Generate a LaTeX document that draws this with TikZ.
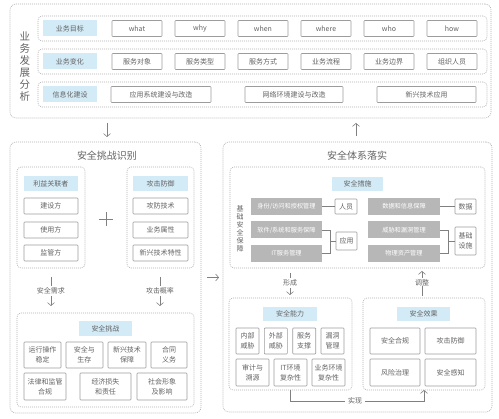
\documentclass[tikz,border=0pt]{standalone}
\usepackage{fontspec}
\setmainfont{Noto Sans CJK SC}
\usetikzlibrary{arrows.meta,calc}
\definecolor{txt}{HTML}{636363}
\definecolor{hdrc}{HTML}{D3EBF7}
\definecolor{bord}{HTML}{9C9C9C}
\definecolor{dotc}{HTML}{B0B0B0}
\definecolor{gfill}{HTML}{B7B7B7}
\definecolor{linec}{HTML}{808080}
\tikzset{
  every node/.style={inner sep=0pt, outer sep=0pt, text=txt, font=\fontsize{7}{8.5}\selectfont, align=center},
  wh/.style 2 args={minimum width=#1pt, minimum height=#2pt},
  dbox/.style={draw=dotc, line width=0.6pt, dash pattern=on 1pt off 1pt, rounded corners=4pt},
  hdr/.style={fill=hdrc, font=\fontsize{7}{8.5}\selectfont},
  wbox/.style={draw=bord, line width=0.6pt, fill=white, rounded corners=0.8pt},
  gbox/.style={fill=gfill, text=white, font=\fontsize{6.2}{7}\selectfont},
  two/.style={font=\fontsize{7}{10}\selectfont},
  ttl/.style={font=\fontsize{10}{12}\selectfont},
  lbl/.style={font=\fontsize{7}{8}\selectfont},
  conn/.style={draw=linec, line width=0.6pt},
  arr/.style={conn, -{Straight Barb[length=3pt,width=7pt]}},
}
\begin{document}
\begin{tikzpicture}[x=1pt,y=-1pt]
\useasboundingbox (0,0) rectangle (499,419);

% ---------- top section ----------
\node[dbox, rounded corners=6pt, wh={481}{114}] (top) at (250.5,61) {};
\node[font=\fontsize{10.5}{12}\selectfont] (topv) at (25,67) {业\\务\\发\\展\\分\\析};
\node[dbox, wh={449}{25}] (row1) at (262.5,28.5) {};
\node[dbox, wh={449}{25}] (row2) at (262.5,61.5) {};
\node[dbox, wh={449}{25}] (row3) at (262.5,94.5) {};

\node[hdr, wh={54}{16}] (h1) at (70,28.5) {业务目标};
\node[hdr, wh={54}{16}] (h2) at (70,61.5) {业务变化};
\node[hdr, wh={54}{16}] (h3) at (70,94.5) {信息化建设};

\node[wbox, wh={50}{16}] (r1a) at (137,28.5) {what};
\node[wbox, wh={50}{16}] (r1b) at (200,28.5) {why};
\node[wbox, wh={50}{16}] (r1c) at (263,28.5) {when};
\node[wbox, wh={50}{16}] (r1d) at (326,28.5) {where};
\node[wbox, wh={50}{16}] (r1e) at (389,28.5) {who};
\node[wbox, wh={50}{16}] (r1f) at (452,28.5) {how};

\node[wbox, wh={50}{16}] (r2a) at (137,61.5) {服务对象};
\node[wbox, wh={50}{16}] (r2b) at (200,61.5) {服务类型};
\node[wbox, wh={50}{16}] (r2c) at (263,61.5) {服务方式};
\node[wbox, wh={50}{16}] (r2d) at (326,61.5) {业务流程};
\node[wbox, wh={50}{16}] (r2e) at (389,61.5) {业务边界};
\node[wbox, wh={50}{16}] (r2f) at (452,61.5) {组织人员};

\node[wbox, wh={100}{16}] (r3a) at (161,94.5) {应用系统建设与改造};
\node[wbox, wh={98}{16}] (r3b) at (294,94.5) {网络环境建设与改造};
\node[wbox, wh={99}{16}] (r3c) at (426.5,94.5) {新兴技术应用};

% ---------- left big ----------
\node[dbox, rounded corners=6pt, wh={191}{271}] (left) at (105.5,277.5) {};
\node[ttl] (ltitle) at (107,156) {安全挑战识别};

\node[dbox, wh={68}{101}] (li1) at (51,217.5) {};
\node[hdr, wh={54}{15}] (lh1) at (51,183.5) {利益关联者};
\node[wbox, wh={54}{16}] (l1a) at (51,206) {建设方};
\node[wbox, wh={54}{16}] (l1b) at (51,230) {使用方};
\node[wbox, wh={54}{16}] (l1c) at (51,253) {监管方};

\node[dbox, wh={67}{101}] (li2) at (160.5,217.5) {};
\node[hdr, wh={55}{15}] (lh2) at (160.5,183.5) {攻击防御};
\node[wbox, wh={55}{16}] (l2a) at (160.5,206) {攻防技术};
\node[wbox, wh={55}{16}] (l2b) at (160.5,230) {业务属性};
\node[wbox, wh={55}{16}] (l2c) at (160.5,253) {新兴技术特性};

\coordinate (plus) at (106,219);
\draw[conn] ($(plus)+(-7,0)$) -- ($(plus)+(7,0)$);
\draw[conn] ($(plus)+(0,-7)$) -- ($(plus)+(0,7)$);

\node[lbl] (need) at (51,291) {安全需求};
\node[lbl] (prob) at (160,291) {攻击概率};

\node[dbox, wh={177}{94}] (li3) at (105.5,360) {};
\node[hdr, wh={53}{15}] (lh3) at (105.5,328.5) {安全挑战};
\node[wbox, two, wh={37}{26}] (c1) at (42.5,355) {运行操作\\稳定};
\node[wbox, two, wh={37}{26}] (c2) at (84.5,355) {安全与\\生存};
\node[wbox, two, wh={38}{26}] (c3) at (127,355) {新兴技术\\保障};
\node[wbox, two, wh={36}{26}] (c4) at (169,355) {合同\\义务};
\node[wbox, two, wh={42}{27}] (c5) at (45,386.5) {法律和监管\\合规};
\node[wbox, two, wh={51}{27}] (c6) at (105.5,386.5) {经济损失\\和责任};
\node[wbox, two, wh={50}{27}] (c7) at (162,386.5) {社会形象\\及影响};

\draw[conn, shorten <=9pt, shorten >=2pt] (li1.south) -- (need.north);
\draw[arr, shorten <=2pt, shorten >=7pt] (need.south) -- (need.south |- li3.north);
\draw[conn, shorten <=9pt, shorten >=2pt] (li2.south -| prob.north) -- (prob.north);
\draw[arr, shorten <=2pt, shorten >=7pt] (prob.south) -- (prob.south |- li3.north);

% ---------- right big ----------
\node[dbox, rounded corners=6pt, wh={269}{270}] (right) at (357.5,277) {};
\node[ttl] (rtitle) at (357,156) {安全体系落实};

\node[dbox, wh={255}{101}] (meas) at (357.5,217.5) {};
\node[hdr, wh={51}{14}] (mh) at (357.5,184) {安全措施};
\node[font=\fontsize{7}{8}\selectfont] (basev) at (240,229) {基\\础\\安\\全\\保\\障};

\node[gbox, wh={71}{17}] (g1) at (286.5,206.5) {身份/访问和授权管理};
\node[gbox, wh={71}{17}] (g2) at (286.5,230) {软件/系统和服务保障};
\node[gbox, wh={71}{17}] (g3) at (286.5,253.5) {IT服务管理};
\node[wbox, wh={22}{15}] (ry) at (346,206.5) {人员};
\node[wbox, wh={21}{18}] (yy) at (346.5,241) {应用};

\node[gbox, wh={72}{17}] (g4) at (404,206.5) {数据和信息保障};
\node[gbox, wh={72}{17}] (g5) at (404,230) {威胁和漏洞管理};
\node[gbox, wh={72}{17}] (g6) at (404,253.5) {物理资产管理};
\node[wbox, wh={21}{15}] (sj) at (465.5,206.5) {数据};
\node[wbox, two, wh={21}{28}] (jc) at (465.5,241) {基础\\设施};

\draw[conn] (g1.east) -- (ry.west);
\draw[conn] (g2.east) -- ++(8,0) coordinate (b1) |- (g3.east);
\draw[conn] (yy.west) -- (yy.west -| b1);
\draw[conn] (g4.east) -- (sj.west);
\draw[conn] (g5.east) -- ++(8,0) coordinate (b2) |- (g6.east);
\draw[conn] (jc.west) -- (jc.west -| b2);

\node[lbl] (form) at (290,283) {形成};
\node[lbl] (adj) at (422,283) {调整};

\node[dbox, wh={123}{92}] (cap) at (290.5,344) {};
\node[hdr, wh={54}{14}] (caph) at (290,314) {安全能力};
\node[wbox, two, wh={23}{26}] (k1) at (247.5,341) {内部\\威胁};
\node[wbox, two, wh={23}{26}] (k2) at (275.8,341) {外部\\威胁};
\node[wbox, two, wh={23}{26}] (k3) at (304.2,341) {服务\\支撑};
\node[wbox, two, wh={23}{26}] (k4) at (332.5,341) {漏洞\\管理};
\node[wbox, two, wh={33}{27}] (k5) at (252.5,372.5) {审计与\\溯源};
\node[wbox, two, wh={33}{27}] (k6) at (290.5,372.5) {IT环境\\复杂性};
\node[wbox, two, wh={33}{27}] (k7) at (328.5,372.5) {业务环境\\复杂性};

\node[dbox, wh={122}{92}] (eff) at (424,344) {};
\node[hdr, wh={53}{14}] (effh) at (423.5,314) {安全效果};
\node[wbox, wh={50}{26}] (e1) at (395,341) {安全合规};
\node[wbox, wh={51}{26}] (e2) at (450.5,341) {攻击防御};
\node[wbox, wh={50}{27}] (e3) at (395,372.5) {风险治理};
\node[wbox, wh={51}{27}] (e4) at (450.5,372.5) {安全感知};

\draw[conn, shorten <=5pt, shorten >=2pt] (meas.south -| form.north) -- (form.north);
\draw[arr, shorten <=2pt, shorten >=3pt] (form.south) -- (form.south |- cap.north);
\draw[arr, shorten <=2pt, shorten >=3pt] (adj.north) -- (adj.north |- meas.south);
\draw[conn, shorten <=2pt] (eff.north -| adj.south) -- (adj.south);

\draw[arr] (cap.south) -- ++(0,11) -| (eff.south);
\node[lbl, fill=white, inner xsep=3pt, inner ysep=1pt] (impl) at (355,401) {实现};

% ---------- inter-section arrows ----------
\draw[arr, shorten <=6pt, shorten >=5pt] (right.north -| 356,0) -- (top.south -| 356,0);
\draw[arr, shorten <=5pt, shorten >=5pt] (top.south -| ltitle.north) -- (left.north -| ltitle.north);
\draw[arr, shorten <=6pt, shorten >=4pt] (left.east) -- (left.east -| right.west);
\end{tikzpicture}
\end{document}
